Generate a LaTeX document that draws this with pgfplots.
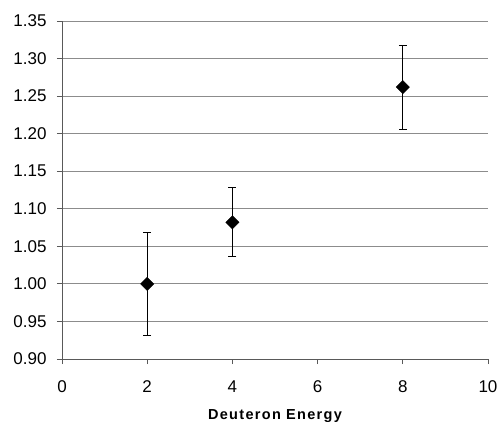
\documentclass[border=0pt]{standalone}
\usepackage{fontspec}
\setmainfont{Liberation Sans}
\usepackage{pgfplots}
\pgfplotsset{compat=1.18}

\begin{document}
\begin{tikzpicture}
\useasboundingbox (-62pt,-62pt) rectangle (439pt,359pt);
\begin{axis}[
    scale only axis,
    width=426pt, height=338pt,
    xmin=0, xmax=10, ymin=0.90, ymax=1.35,
    xtick={0,2,...,10},
    ytick={0.90,0.95,...,1.36},
    axis lines=left,
    axis line style={-, draw=black!65, line width=0.9pt},
    tick style={draw=black!65, line width=0.9pt},
    tick align=outside,
    major tick length=5pt,
    ymajorgrids,
    grid style={draw=black!45, line width=0.8pt},
    /pgf/number format/assume math mode=true,
    yticklabel style={/pgf/number format/fixed, /pgf/number format/fixed zerofill, /pgf/number format/precision=2},
    ticklabel style={font=\fontsize{17}{19}\selectfont},
    xticklabel style={yshift=-13pt},
    yticklabel style={xshift=-7pt},
    xlabel={\addfontfeature{LetterSpace=9}\bfseries Deuteron Energy},
    xlabel style={font=\fontsize{14.5}{16}\selectfont, yshift=-10pt},
    clip=false,
]
\addplot[only marks, black,
    mark=square*, mark size=4.7pt, mark options={rotate=45, fill=black},
    error bars/.cd, y dir=both, y explicit,
    error bar style={black, line width=0.8pt},
    error mark options={rotate=90, mark size=4pt, black, line width=0.8pt}]
  coordinates {
    (2, 1.000) +- (0, 0.068)
    (4, 1.082) +- (0, 0.046)
    (8, 1.262) +- (0, 0.056)
  };
\end{axis}
\end{tikzpicture}
\end{document}
